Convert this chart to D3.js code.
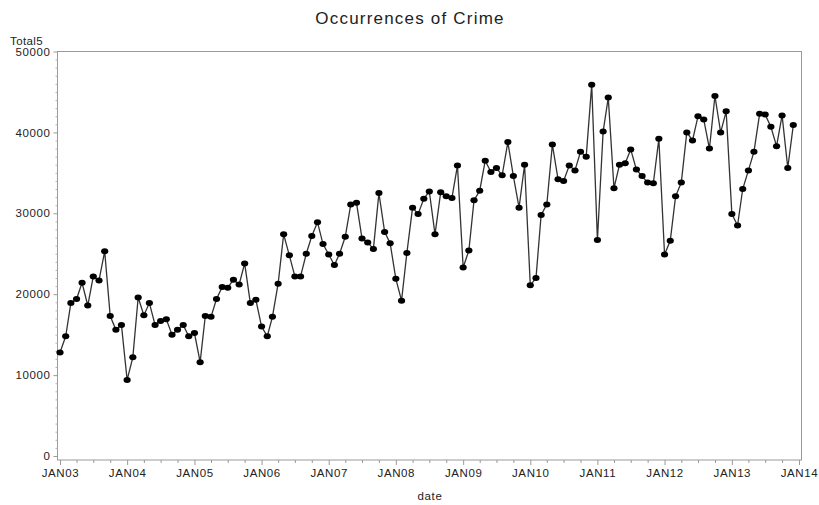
<!DOCTYPE html>
<html>
<head>
<meta charset="utf-8">
<style>
    body { margin:0; background:white; }
    svg text { font-family: "Liberation Sans", Arial, sans-serif; fill:#222; }
</style>
</head>
<body>
<div id="chart"></div>
<script src="https://cdn.jsdelivr.net/npm/d3@7/dist/d3.min.js"></script>
<script>
// monthly totals, Jan 2003 .. Dec 2013
var startMonth = "2003-01-01";
var total5 = [
    12800, 14800, 18900, 19400, 21400, 18600, 22200, 21700, 25300, 17300, 15600, 16200,
    9400, 12200, 19600, 17400, 18900, 16200, 16700, 16900, 15000, 15600, 16200, 14800,
    15200, 11600, 17300, 17200, 19400, 20900, 20800, 21800, 21200, 23800, 18900, 19300,
    16000, 14800, 17200, 21300, 27400, 24800, 22200, 22200, 25000, 27200, 28900, 26200,
    24900, 23600, 25000, 27100, 31100, 31300, 26900, 26400, 25600, 32500, 27700, 26300,
    21900, 19200, 25100, 30700, 29900, 31800, 32700, 27400, 32600, 32100, 31900, 35900,
    23300, 25400, 31600, 32800, 36500, 35100, 35600, 34700, 38800, 34600, 30700, 36000,
    21100, 22000, 29800, 31100, 38500, 34200, 34000, 35900, 35300, 37600, 37000, 45900,
    26700, 40100, 44300, 33100, 36000, 36200, 37900, 35400, 34600, 33800, 33700, 39200,
    24900, 26600, 32100, 33800, 40000, 39000, 42000, 41600, 38000, 44500, 40000, 42600,
    29900, 28500, 33000, 35300, 37600, 42300, 42200, 40700, 38300, 42100, 35600, 40900
];
var yTicks = [0, 10000, 20000, 30000, 40000, 50000];
var xTickYears = [2003, 2004, 2005, 2006, 2007, 2008, 2009, 2010, 2011, 2012, 2013, 2014];

var width = 819, height = 505;
var frameL = 57.5, frameR = 801.5, frameT = 51.5, frameB = 460;

var start = new Date(startMonth + "T00:00:00");
var data = total5.map(function(v, i){
    return {date: d3.timeMonth.offset(start, i), value: v};
});

var svg = d3.select("#chart").append("svg")
    .attr("width", width)
    .attr("height", height);

var x = d3.scaleTime()
    .domain([new Date(2003, 0, 1), new Date(2014, 0, 1)])
    .range([60, 799]);
var y = d3.scaleLinear()
    .domain([0, 50000])
    .range([456, frameT]);

// frame
svg.append("rect")
    .attr("x", frameL).attr("y", frameT)
    .attr("width", frameR - frameL).attr("height", frameB - frameT)
    .attr("fill", "none")
    .attr("stroke", "#9a9a9a")
    .attr("stroke-width", 1);

// x axis
var xMajor = xTickYears.map(function(yr){ return new Date(yr, 0, 1); });
var xMinor = d3.timeMonth.every(3).range(new Date(2003, 0, 1), new Date(2014, 0, 2))
    .filter(function(d){ return d.getMonth() != 0; });
var fmt = d3.timeFormat("%b%y");

var xAxis = svg.append("g")
    .attr("transform", "translate(0," + frameB + ")")
    .call(d3.axisBottom(x).tickValues(xMajor).tickSize(5).tickPadding(4)
        .tickFormat(function(d){ return fmt(d).toUpperCase(); }));
xAxis.select(".domain").remove();
xAxis.selectAll("line").attr("stroke", "#9a9a9a");
xAxis.selectAll("text").attr("font-size", 11.5).attr("letter-spacing", 0.6).attr("fill", "#222");

var xAxisMinor = svg.append("g")
    .attr("transform", "translate(0," + frameB + ")")
    .call(d3.axisBottom(x).tickValues(xMinor).tickSize(3).tickFormat(""));
xAxisMinor.select(".domain").remove();
xAxisMinor.selectAll("line").attr("stroke", "#9a9a9a");

// y axis
var yMinor = d3.range(0, 50001, 1000).filter(function(v){ return v % 10000 != 0; });
var yAxis = svg.append("g")
    .attr("transform", "translate(" + frameL + ",0)")
    .call(d3.axisLeft(y).tickValues(yTicks).tickSize(4).tickPadding(3)
        .tickFormat(d3.format("d")));
yAxis.select(".domain").remove();
yAxis.selectAll("line").attr("stroke", "#9a9a9a");
yAxis.selectAll("text").attr("font-size", 11.5).attr("letter-spacing", 0.6).attr("fill", "#222");

var yAxisMinor = svg.append("g")
    .attr("transform", "translate(" + frameL + ",0)")
    .call(d3.axisLeft(y).tickValues(yMinor).tickSize(2).tickFormat(""));
yAxisMinor.select(".domain").remove();
yAxisMinor.selectAll("line").attr("stroke", "#b5b5b5");

// titles
svg.append("text")
    .attr("x", 410).attr("y", 24)
    .attr("text-anchor", "middle")
    .attr("font-size", 17)
    .attr("letter-spacing", 1.2)
    .attr("fill", "#333")
    .text("Occurrences of Crime");

svg.append("text")
    .attr("x", 10).attr("y", 45)
    .attr("font-size", 11.5)
    .attr("letter-spacing", 0.4)
    .text("Total5");

svg.append("text")
    .attr("x", 430).attr("y", 500)
    .attr("text-anchor", "middle")
    .attr("font-size", 11.5)
    .attr("letter-spacing", 0.6)
    .text("date");

// series
var line = d3.line()
    .x(function(d){ return x(d.date); })
    .y(function(d){ return y(d.value); });

svg.append("path")
    .datum(data)
    .attr("d", line)
    .attr("fill", "none")
    .attr("stroke", "#333")
    .attr("stroke-width", 1.3);

svg.selectAll(".pt")
    .data(data)
    .enter()
    .append("ellipse")
    .attr("class", "pt")
    .attr("cx", function(d){ return x(d.date); })
    .attr("cy", function(d){ return y(d.value); })
    .attr("rx", 3.6)
    .attr("ry", 3)
    .attr("fill", "#000");
</script>
</body>
</html>
